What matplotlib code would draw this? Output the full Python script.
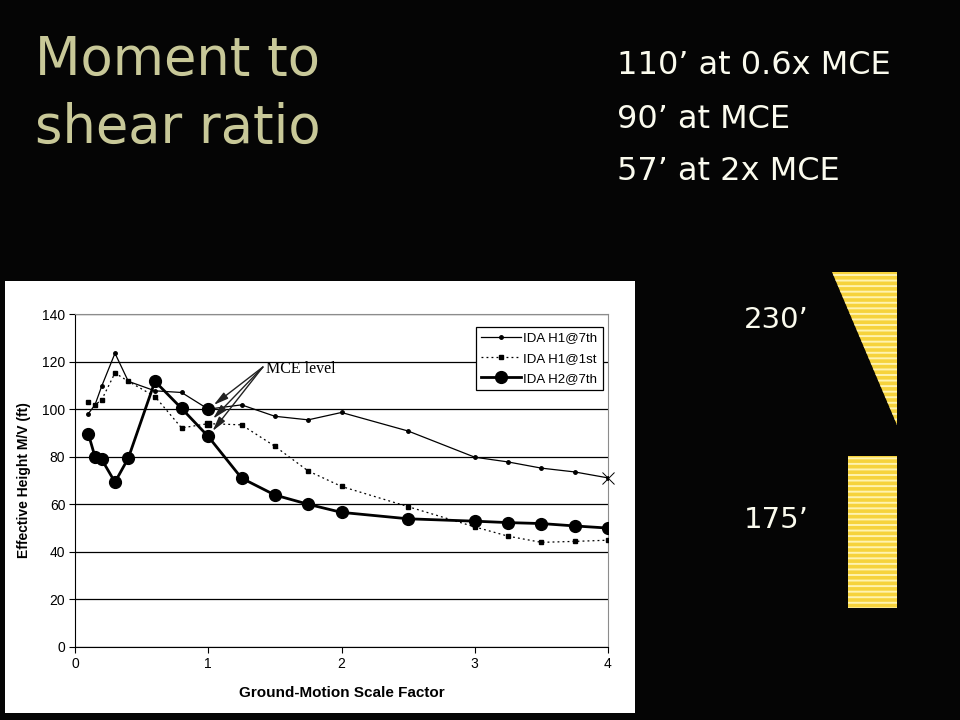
"""
Moment to shear ratio slide
"""

import matplotlib

matplotlib.use("Agg")
import matplotlib.pyplot as plt
from matplotlib.patches import Polygon, Rectangle

# 數據
scale_factor = [0.1, 0.15, 0.2, 0.3, 0.4, 0.6, 0.8, 1.0, 1.25, 1.5,
                1.75, 2.0, 2.5, 3.0, 3.25, 3.5, 3.75, 4.0]
h1_7th = [98.1, 101.8, 109.6, 123.5, 111.7, 107.7, 107.0, 100.0, 101.8, 97.0,
          95.5, 98.6, 90.8, 79.8, 77.8, 75.2, 73.6, 71.1]
h1_1st = [102.8, 101.8, 103.9, 115.2, 111.7, 105.3, 92.1, 93.9, 93.4, 84.4,
          74.0, 67.5, 59.0, 50.5, 46.6, 44.0, 44.4, 44.9]
h2_7th = [89.6, 80.0, 78.9, 69.3, 79.4, 111.7, 100.3, 88.5, 71.0, 63.9,
          60.0, 56.6, 53.9, 52.9, 52.3, 51.9, 50.9, 50.0]
series_labels = ["IDA H1@7th", "IDA H1@1st", "IDA H2@7th"]
mce_factor = 1.0

x_ticks = [0, 1, 2, 3, 4]
y_ticks = [0, 20, 40, 60, 80, 100, 120, 140]

title_lines = ["Moment to", "shear ratio"]
notes = ["110\u2019 at 0.6x MCE", "90\u2019 at MCE", "57\u2019 at 2x MCE"]
heights = ["230\u2019", "175\u2019"]

TITLE_COLOR = "#c8c898"
TEXT_COLOR = "#fbfbee"
STRIPE_YELLOW = "#f6d33c"

plt.rcParams["hatch.color"] = "#fff3b0"
plt.rcParams["hatch.linewidth"] = 1.4

fig = plt.figure(figsize=(9.6, 7.2), dpi=100, facecolor="#050505")

# 背景層 (像素坐標)
bg = fig.add_axes([0, 0, 1, 1], zorder=0)
bg.set_xlim(0, 960)
bg.set_ylim(720, 0)
bg.axis("off")

bg.add_patch(Rectangle((5, 281), 630, 432, facecolor="white", edgecolor="none"))

bg.text(35, 60, title_lines[0], fontsize=38, color=TITLE_COLOR,
        family="DejaVu Sans", va="center", ha="left")
bg.text(35, 128, title_lines[1], fontsize=38, color=TITLE_COLOR,
        family="DejaVu Sans", va="center", ha="left")

for i, note in enumerate(notes):
    bg.text(617, 66 + i * 53, note, fontsize=23, color=TEXT_COLOR,
            family="DejaVu Sans", va="center", ha="left")

bg.text(744, 320, heights[0], fontsize=21, color=TEXT_COLOR,
        family="DejaVu Sans", va="center", ha="left")
bg.text(744, 520, heights[1], fontsize=21, color=TEXT_COLOR,
        family="DejaVu Sans", va="center", ha="left")

# 條紋圖形
bg.add_patch(Polygon([(832, 272), (897, 272), (897, 425)], closed=True,
                     facecolor=STRIPE_YELLOW, hatch="---", linewidth=0))
bg.add_patch(Rectangle((848, 456), 49, 152, facecolor=STRIPE_YELLOW,
                       hatch="---", linewidth=0))

# 圖表
ax = fig.add_axes([75 / 960, 1 - 647 / 720, 533 / 960, 333 / 720], zorder=2)
ax.set_facecolor("white")

ax.plot(scale_factor, h1_7th, color="black", linewidth=0.9, marker="o",
        markersize=2.5, label=series_labels[0], zorder=3)
ax.plot(scale_factor, h1_1st, color="black", linewidth=0.9, linestyle=(0, (1.5, 2.5)),
        marker="s", markersize=3, label=series_labels[1], zorder=3)
ax.plot(scale_factor, h2_7th, color="black", linewidth=2, marker="o",
        markersize=8.5, label=series_labels[2], zorder=4)

# 末端標記
ax.plot(scale_factor[-1], h1_7th[-1], marker="x", markersize=8, color="black",
        markeredgewidth=0.7, clip_on=False, zorder=5)

# MCE 標記
mi = scale_factor.index(mce_factor)
ax.plot(mce_factor, h1_7th[mi], marker="o", markersize=8.5, color="black", zorder=5)
ax.plot(mce_factor, h1_1st[mi], marker="s", markersize=4.5, color="black", zorder=5)

for vals in (h1_7th, h1_1st, h2_7th):
    ax.annotate("", xy=(mce_factor, vals[mi]), xytext=(1.41, 117.7),
                arrowprops=dict(arrowstyle="-|>,head_length=0.55,head_width=0.14",
                                color="#222222", linewidth=1.0,
                                shrinkA=0, shrinkB=5, mutation_scale=16),
                zorder=6)
ax.text(1.435, 117.0, "MCE level", family="Liberation Serif", fontsize=11.5,
        va="center", ha="left", color="black", zorder=6)

ax.set_xlim(0, 4)
ax.set_ylim(0, 140)
ax.set_xticks(x_ticks)
ax.set_yticks(y_ticks)
ax.set_xticklabels([str(t) for t in x_ticks], family="Liberation Sans", fontsize=10)
ax.set_yticklabels([str(t) for t in y_ticks], family="Liberation Sans", fontsize=10)
ax.tick_params(direction="out", length=4, width=0.8, color="black", pad=3)
ax.yaxis.grid(True, color="black", linewidth=0.9)
ax.set_axisbelow(True)

for side in ("top", "right"):
    ax.spines[side].set_color("#8c8c8c")
    ax.spines[side].set_linewidth(0.8)
for side in ("left", "bottom"):
    ax.spines[side].set_color("black")
    ax.spines[side].set_linewidth(0.8)

ax.set_xlabel("Ground-Motion Scale Factor", family="Liberation Sans",
              fontsize=11, fontweight="bold", labelpad=11)
ax.set_ylabel("Effective Height M/V (ft)", family="Liberation Sans",
              fontsize=10, fontweight="bold", labelpad=8)

leg = ax.legend(loc="upper right", bbox_to_anchor=(0.99, 0.962), borderaxespad=0,
                prop={"family": "Liberation Sans", "size": 9.5}, fancybox=False,
                framealpha=1, edgecolor="black", handlelength=3.0,
                handletextpad=0.2, labelspacing=0.62, borderpad=0.4)
leg.get_frame().set_linewidth(0.9)

fig.savefig("out.png", dpi=100, facecolor=fig.get_facecolor())
plt.close(fig)
